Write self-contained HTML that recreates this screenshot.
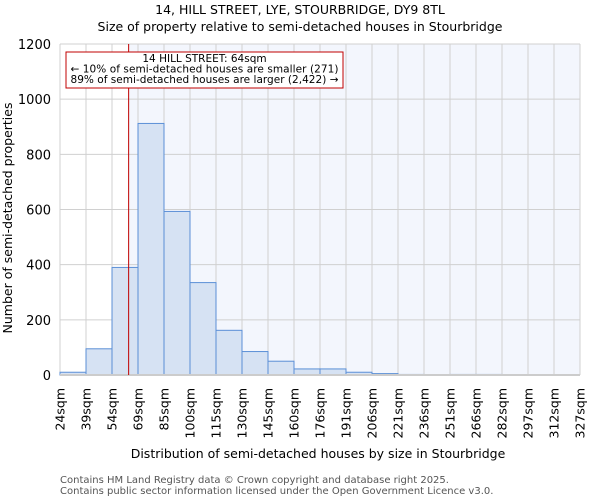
<!DOCTYPE html>
<html><head><meta charset="utf-8"><style>
body{margin:0;background:#fff;}
svg{display:block;font-family:"DejaVu Sans","Liberation Sans",sans-serif;}
</style></head><body>
<svg id="chart" width="600" height="500" viewBox="0 0 600 500">
<text x="300" y="14" text-anchor="middle" font-size="12.5">14, HILL STREET, LYE, STOURBRIDGE, DY9 8TL</text>
<text x="300" y="31" text-anchor="middle" font-size="12.5">Size of property relative to semi-detached houses in Stourbridge</text>
<g id="plot"></g>
<text x="318" y="458" text-anchor="middle" font-size="12.5">Distribution of semi-detached houses by size in Stourbridge</text>
<text transform="translate(12,218) rotate(-90)" text-anchor="middle" font-size="12.5">Number of semi-detached properties</text>
<text x="60" y="483" font-size="10" fill="#555">Contains HM Land Registry data © Crown copyright and database right 2025.</text>
<text x="60" y="494" font-size="10" fill="#555">Contains public sector information licensed under the Open Government Licence v3.0.</text>
</svg>
<script>
const edgeLabels=["24sqm","39sqm","54sqm","69sqm","85sqm","100sqm","115sqm","130sqm","145sqm","160sqm","176sqm","191sqm","206sqm","221sqm","236sqm","251sqm","266sqm","282sqm","297sqm","312sqm","327sqm"];
const counts=[10,95,390,912,593,335,162,85,50,22,22,10,5,2,0,2,2,0,0,0];
const yTicks=[0,200,400,600,800,1000,1200];
const propertyPos=2.64; // in bin units (64sqm)
const NS="http://www.w3.org/2000/svg";
const g=document.getElementById('plot');
const X0=60,X1=580,Y0=375,Y1=44,YMAX=1200;
const bw=(X1-X0)/counts.length;
const xs=i=>X0+i*bw;
const ys=v=>Y0-(v/YMAX)*(Y0-Y1);
function mk(t,a){const e=document.createElementNS(NS,t);for(const k in a)e.setAttribute(k,a[k]);g.appendChild(e);return e;}
const mx=xs(propertyPos);
let e=mk('rect',{x:mx,y:Y1,width:X1-mx,height:Y0-Y1,fill:'#f3f6fd'});


yTicks.forEach(t=>{
 let l=mk('line',{x1:X0,x2:X1,y1:ys(t),y2:ys(t),stroke:'#d0d0d0','stroke-width':1});
 
 
 let tx=mk('text',{x:X0-9,y:ys(t)+5,'text-anchor':'end','font-size':13});
 tx.textContent=t;
 
 
});
edgeLabels.forEach((s,i)=>{
 let l=mk('line',{x1:xs(i),x2:xs(i),y1:Y1,y2:Y0,stroke:'#d0d0d0','stroke-width':1});
 
 
 let tx=mk('text',{transform:`translate(${xs(i)+4.5},388) rotate(-90)`,'text-anchor':'end','font-size':12.5});
 tx.textContent=s;
 
 
});
counts.forEach((c,i)=>{
 let r=mk('rect',{x:xs(i),y:ys(c),width:bw,height:Y0-ys(c),fill:'#d6e2f3',stroke:'#5b8fd6','stroke-width':1});
 
 
});
let ax=mk('line',{x1:X0,x2:X1,y1:Y0,y2:Y0,stroke:'#cccccc','stroke-width':2});


let pl=mk('line',{x1:mx,x2:mx,y1:Y1,y2:Y0,stroke:'#c00000','stroke-width':1});


let bx=mk('rect',{x:66,y:52,width:277,height:36,fill:'#fff',stroke:'#c00000','stroke-width':1});


["14 HILL STREET: 64sqm","← 10% of semi-detached houses are smaller (271)","89% of semi-detached houses are larger (2,422) →"].forEach((s,i)=>{
 let t=mk('text',{x:204.5,y:62+i*10.5,'text-anchor':'middle','font-size':10.5,textLength:i==0?'':'268'});
 if(i==0)t.removeAttribute('textLength');
 t.textContent=s;
 
 
});
</script>
</body></html>
